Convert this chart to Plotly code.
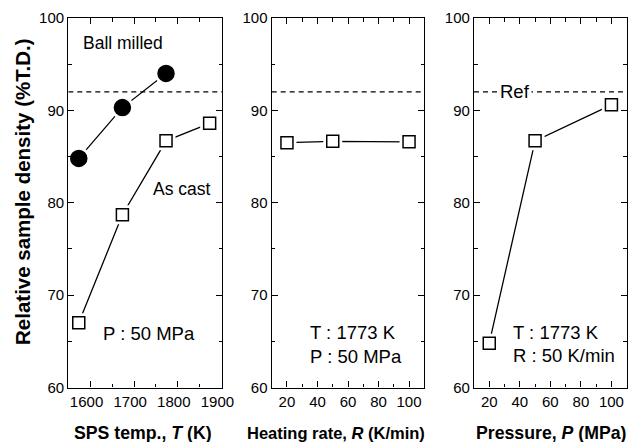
import plotly.graph_objects as go

# ---- data ----
sps_temp = [1573, 1673, 1773, 1873]
ball_milled = [84.8, 90.3, 94.0]
as_cast = [67.0, 78.7, 86.7, 88.6]

heating_rate = [20, 50, 100]
density_rate = [86.5, 86.65, 86.6]

pressure = [20, 50, 100]
density_pressure = [64.8, 86.7, 90.6]

ref_density = 92.0

W, H = 630, 442
FONT = "Liberation Sans, Arial, Helvetica, sans-serif"

def px_x(p):
    return p / W

def px_y(p):
    return (H - p) / H

fig = go.Figure()

def add_series(x, y, xa, ya, symbol, size, filled):
    fig.add_trace(go.Scatter(x=x, y=y, mode="lines", xaxis=xa, yaxis=ya,
                             line=dict(color="black", width=1.3),
                             hoverinfo="skip", showlegend=False))
    fig.add_trace(go.Scatter(x=x, y=y, mode="markers", xaxis=xa, yaxis=ya,
                             marker=dict(symbol=symbol, size=size + 7, color="white",
                                         line=dict(width=0)),
                             hoverinfo="skip", showlegend=False))
    fig.add_trace(go.Scatter(x=x, y=y, mode="markers", xaxis=xa, yaxis=ya,
                             marker=dict(symbol=symbol, size=size,
                                         color="black" if filled else "white",
                                         line=dict(color="black", width=1.5)),
                             showlegend=False))

x_ranges = [[1549, 1902], [10, 110], [10, 110]]
for i, (xa, ya) in enumerate([("x", "y"), ("x2", "y2"), ("x3", "y3")]):
    fig.add_trace(go.Scatter(x=x_ranges[i], y=[ref_density, ref_density], mode="lines",
                             xaxis=xa, yaxis=ya,
                             line=dict(color="black", width=1.2, dash="5px,4px"),
                             hoverinfo="skip", showlegend=False))

add_series(sps_temp[:3], ball_milled, "x", "y", "circle", 16, True)
add_series(sps_temp, as_cast, "x", "y", "square", 12, False)
add_series(heating_rate, density_rate, "x2", "y2", "square", 12, False)
add_series(pressure, density_pressure, "x3", "y3", "square", 12, False)

y_dom = [px_y(387.5), px_y(18)]
x_doms = [[px_x(68.3), px_x(222.3)], [px_x(271.7), px_x(424.3)], [px_x(474), px_x(626.7)]]

axis_common = dict(showline=True, linecolor="black", linewidth=1.3, mirror="ticks",
                   ticks="inside", ticklen=6, tickwidth=1.2, tickcolor="black",
                   showgrid=False, zeroline=False, automargin=False,
                   tickfont=dict(family=FONT, size=15, color="black"))

minor_x = dict(ticks="inside", ticklen=3.5, tickcolor="black", tickwidth=1.2)
xcfg = [
    dict(range=x_ranges[0], tick0=1600, dtick=100, ticklabelshift=-4,
         minor=dict(dtick=50, tick0=1550, **minor_x)),
    dict(range=x_ranges[1], tick0=0, dtick=20, minor=dict(dtick=10, tick0=0, **minor_x)),
    dict(range=x_ranges[2], tick0=0, dtick=20, minor=dict(dtick=10, tick0=0, **minor_x)),
]

layout = dict(width=W, height=H, margin=dict(l=0, r=0, t=0, b=0, autoexpand=False),
              paper_bgcolor="white", plot_bgcolor="white", showlegend=False,
              font=dict(family=FONT, color="black"))
for i in range(3):
    sx = "" if i == 0 else str(i + 1)
    layout["xaxis" + sx] = dict(domain=x_doms[i], anchor="y" + sx, **axis_common, **xcfg[i])
    layout["yaxis" + sx] = dict(domain=y_dom, anchor="x" + sx, range=[60, 100], tick0=60, dtick=10,
                                minor=dict(ticks="inside", ticklen=3.5, dtick=5, tick0=60,
                                           tickcolor="black", tickwidth=1.2),
                                **axis_common)
fig.update_layout(**layout)

def ann(text, x, y, size=14, xanchor="left", yanchor="middle", textangle=0, bg=None):
    d = dict(text=text, x=x, y=y, xref="paper", yref="paper", showarrow=False,
             xanchor=xanchor, yanchor=yanchor, textangle=textangle,
             font=dict(family=FONT, size=size, color="black"))
    if bg:
        d["bgcolor"] = bg
        d["borderpad"] = 1
    fig.add_annotation(**d)

# in-plot labels
ann("Ball milled", px_x(81), px_y(43), 17.5)
ann("As cast", px_x(151), px_y(189), 17.5)
ann("P : 50 MPa", px_x(101), px_y(333), 18.5)
ann("T : 1773 K", px_x(308), px_y(332), 18.5)
ann("P : 50 MPa", px_x(308), px_y(356), 18.5)
ann("Ref", px_x(515), px_y(91), 18.5, xanchor="center", bg="white")
ann("T : 1773 K", px_x(511), px_y(332), 18.5)
ann("R : 50 K/min", px_x(511), px_y(355), 18.5)

# axis titles
ann("<b>Relative sample density (%T.D.)</b>", px_x(22), px_y(192), 20.5, xanchor="center", textangle=-90)
ann("<b>SPS temp., <i>T</i> (K)</b>", px_x(143), px_y(433), 17.7, xanchor="center")
ann("<b>Heating rate, <i>R</i> (K/min)</b>", px_x(336), px_y(433), 16.5, xanchor="center")
ann("<b>Pressure, <i>P</i> (MPa)</b>", px_x(551), px_y(433), 17.7, xanchor="center")

fig.write_html("out.html", config={"displayModeBar": False},
               post_script="document.body.style.margin='0';document.body.style.overflow='hidden';")
